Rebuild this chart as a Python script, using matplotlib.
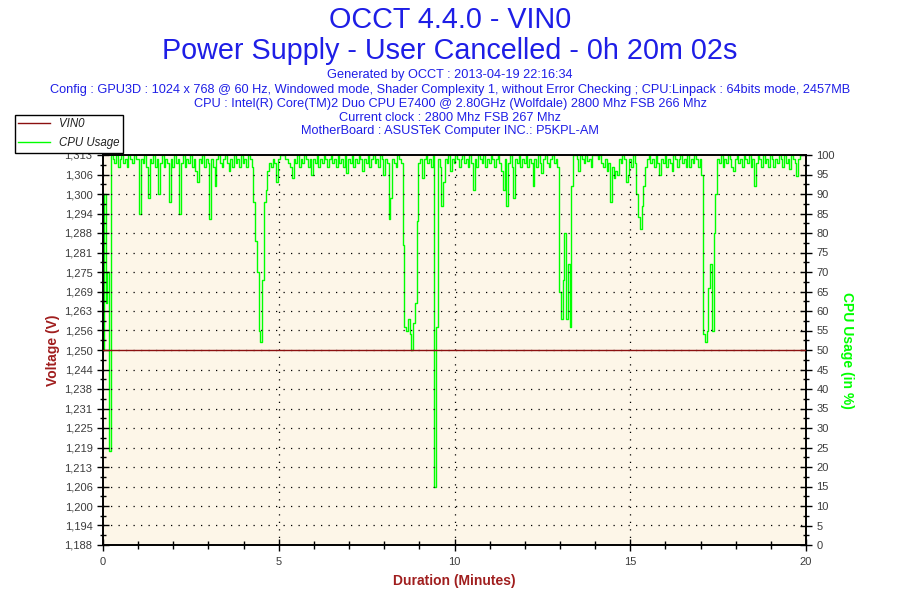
import numpy as np
import matplotlib
matplotlib.use("Agg")
import matplotlib.pyplot as plt
from matplotlib.ticker import FixedLocator, MultipleLocator, AutoMinorLocator
from matplotlib.lines import Line2D

plt.rcParams['font.family'] = ['Liberation Sans', 'DejaVu Sans']

# ---------------- data ----------------
title_main = "OCCT 4.4.0 - VIN0"
title_sub = "Power Supply - User Cancelled - 0h 20m 02s"
info_lines = [
    "Generated by OCCT : 2013-04-19 22:16:34",
    "Config : GPU3D : 1024 x 768 @ 60 Hz, Windowed mode, Shader Complexity 1, without Error Checking ; CPU:Linpack : 64bits mode, 2457MB",
    "CPU : Intel(R) Core(TM)2 Duo CPU E7400 @ 2.80GHz (Wolfdale) 2800 Mhz FSB 266 Mhz",
    "Current clock : 2800 Mhz FSB 267 Mhz",
    "MotherBoard : ASUSTeK Computer INC.: P5KPL-AM",
]

sample_step_min = 0.05  # one CPU sample every 3 s

cpu_usage = [
    # minute 0
    50, 90, 62, 70, 24, 100, 99, 98, 100, 97, 99, 100, 98, 99, 97, 100, 99, 98, 100, 99,
    # minute 1
    99, 85, 99, 98, 100, 97, 89, 99, 98, 100, 97, 99, 90, 98, 100, 97, 99, 98, 88, 99,
    # minute 2
    97, 100, 98, 99, 85, 98, 100, 97, 99, 98, 100, 97, 99, 96, 93, 99, 98, 100, 97, 99,
    # minute 3
    98, 83.5, 99, 97, 92, 99, 100, 98, 97, 99, 100, 98, 96, 99, 97, 100, 98, 99, 97, 100,
    # minute 4
    98, 99, 97, 100, 99, 97, 88, 78, 70, 55, 52, 68, 88, 91, 96, 98, 97, 99, 98, 93,
    # minute 5
    99, 100, 100, 100, 99, 99, 98, 97, 94, 99, 98, 100, 97, 99, 98, 100, 99, 97, 99, 95,
    # minute 6
    99, 98, 100, 97, 99, 98, 100, 99, 97, 99, 100, 98, 99, 97, 100, 98, 99, 97, 100, 95.5,
    # minute 7
    99, 98, 100, 97, 99, 98, 100, 99, 96, 99, 98, 100, 97, 99, 100, 98, 99, 97, 100, 99,
    # minute 8
    95, 99, 98, 83.5, 89, 99, 98, 97, 100, 99, 98, 77, 56, 55, 58, 54, 50, 57, 62, 83,
    # minute 9
    98, 99, 94, 99, 100, 98, 99, 97, 100, 15, 56, 99, 97, 87, 93, 99, 98, 100, 96, 99,
    # minute 10
    98, 100, 99, 97, 99, 100, 98, 99, 97, 100, 98, 91, 99, 97, 100, 99, 98, 100, 97, 99,
    # minute 11
    98, 100, 99, 97, 99, 100, 98, 96, 91, 99, 87, 98, 100, 97, 89, 99, 98, 100, 97, 99,
    # minute 12
    98, 100, 97, 99, 98, 92, 99, 97, 100, 98, 95.5, 99, 100, 98, 97, 99, 100, 98, 99, 97,
    # minute 13
    65, 58, 68, 80, 58, 72, 56, 92, 100, 100, 99, 96, 100, 99, 98, 100, 98.5, 99, 97, 100,
    # minute 14
    100, 100, 99, 100, 98, 97, 99, 96, 98, 88, 97, 94, 96, 95, 99, 98, 100, 99, 93, 95,
    # minute 15
    99, 97, 100, 98, 90, 84, 81, 87, 92, 97, 99, 100, 98, 99, 97, 100, 98, 95, 99, 98,
    # minute 16
    100, 97, 99, 98, 96, 100, 99, 97, 99, 100, 98, 99, 97, 100, 97, 99, 98, 100, 99, 97,
    # minute 17
    99, 95, 54, 52, 55, 66, 72, 55, 80, 90, 99, 98, 100, 97, 99, 98, 100, 99, 97, 96,
    # minute 18
    99, 100, 98, 99, 97, 100, 99, 98, 100, 97, 99, 92, 98, 100, 99, 97, 100, 98, 99, 97,
    # minute 19
    100, 99, 97, 99, 98, 100, 99, 97, 100, 98, 99, 96.5, 100, 99, 98, 94.5, 99, 100,
]
cpu_minutes = np.arange(len(cpu_usage)) * sample_step_min

vin0_minutes = [0.0, 20.0]
vin0_volts = [1.250, 1.250]

volt_ticks = [1.1875, 1.19375, 1.2, 1.20625, 1.2125, 1.21875, 1.225, 1.23125, 1.2375,
              1.24375, 1.25, 1.25625, 1.2625, 1.26875, 1.275, 1.28125, 1.2875, 1.29375,
              1.3, 1.30625, 1.3125]
volt_labels = ["1,188", "1,194", "1,200", "1,206", "1,213", "1,219", "1,225", "1,231",
               "1,238", "1,244", "1,250", "1,256", "1,263", "1,269", "1,275", "1,281",
               "1,288", "1,294", "1,300", "1,306", "1,313"]
cpu_ticks = list(range(0, 101, 5))
minute_ticks = [0, 5, 10, 15, 20]

# ---------------- style ----------------
W, H = 900, 600
fig = plt.figure(figsize=(9, 6), dpi=100, facecolor='white')
L, R, B, T = 103, 806, 545, 155
bg = '#FDF6E8'
fig.patches.append(plt.Rectangle((L / W, 1 - B / H), (R - L) / W, (B - T) / H,
                                 transform=fig.transFigure, facecolor=bg,
                                 edgecolor='none', zorder=-10))
ax = fig.add_axes([L / W, 1 - B / H, (R - L) / W, (B - T) / H])
ax2 = ax.twinx()

blue = '#1E1EE6'
dark_red = '#A01E1E'
green = '#00FF00'
tick_gray = '#3C3C3C'

ax.set_xlim(0, 20)
ax.set_ylim(1.1875, 1.3125)
ax2.set_ylim(0, 100)

# grid (dotted)
dot = (0, (1, 5))
for v in volt_ticks[1:-1]:
    ax.axhline(v, color='black', lw=0.9, ls=dot, zorder=1)
for m in minute_ticks[1:-1]:
    ax.axvline(m, color='black', lw=0.9, ls=dot, zorder=1)

ax.plot(vin0_minutes, vin0_volts, color='#8B1010', lw=1.0, zorder=3)
ax2.plot(cpu_minutes, cpu_usage, color=green, lw=1.0, drawstyle='steps-mid', zorder=2)

ax.set_zorder(ax2.get_zorder() + 1)
ax.patch.set_visible(False)
ax2.patch.set_visible(False)

# ticks
ax.yaxis.set_major_locator(FixedLocator(volt_ticks))
ax.set_yticklabels(volt_labels)
ax.yaxis.set_minor_locator(AutoMinorLocator(2))
ax.xaxis.set_major_locator(FixedLocator(minute_ticks))
ax.set_xticklabels([str(m) for m in minute_ticks])
ax.xaxis.set_minor_locator(MultipleLocator(1))
ax2.yaxis.set_major_locator(FixedLocator(cpu_ticks))
ax2.set_yticklabels([str(c) for c in cpu_ticks])
ax2.yaxis.set_minor_locator(MultipleLocator(2.5))

for a in (ax, ax2):
    a.tick_params(which='major', direction='inout', length=9, width=1, colors='black',
                  labelcolor=tick_gray, labelsize=8, pad=3)
    a.tick_params(which='minor', direction='inout', length=5, width=1, colors='black')
ax.tick_params(axis='x', which='major', length=9, pad=4)
ax.tick_params(axis='x', which='minor', length=6)

for s in ax.spines.values():
    s.set_linewidth(1.2)
for s in ax2.spines.values():
    s.set_linewidth(1.2)

ax.set_xlabel("Duration (Minutes)", color=dark_red, fontsize=10, fontweight='bold', labelpad=5)
ax.set_ylabel("Voltage (V)", color=dark_red, fontsize=10, fontweight='bold', labelpad=3)
ax2.set_ylabel("CPU Usage (in %)", color=green, fontsize=10, fontweight='bold',
               rotation=-90, labelpad=14)

# titles
fig.text(0.5, 1 - 20 / H, title_main, ha='center', va='center', color=blue, fontsize=20.7)
fig.text(0.5, 1 - 51 / H, title_sub, ha='center', va='center', color=blue, fontsize=20.7)
info_y = [75, 90, 104, 118, 131]
for line, y in zip(info_lines, info_y):
    fig.text(0.5, 1 - y / H, line, ha='center', va='center', color=blue, fontsize=9.2)

# legend
handles = [Line2D([], [], color='#8B1010', lw=1), Line2D([], [], color=green, lw=1)]
leg = fig.legend(handles, ["VIN0", "CPU Usage"], loc='upper left',
                 bbox_to_anchor=(15 / W, 1 - 115 / H), frameon=True, fancybox=False,
                 edgecolor='black', framealpha=1, borderpad=0.3, handlelength=2.7,
                 labelspacing=0.6, prop={'style': 'italic', 'size': 8.3}, borderaxespad=0)
leg.get_frame().set_linewidth(1.0)
for t in leg.get_texts():
    t.set_color('#202020')

fig.savefig("out.png", dpi=100, facecolor='white')
